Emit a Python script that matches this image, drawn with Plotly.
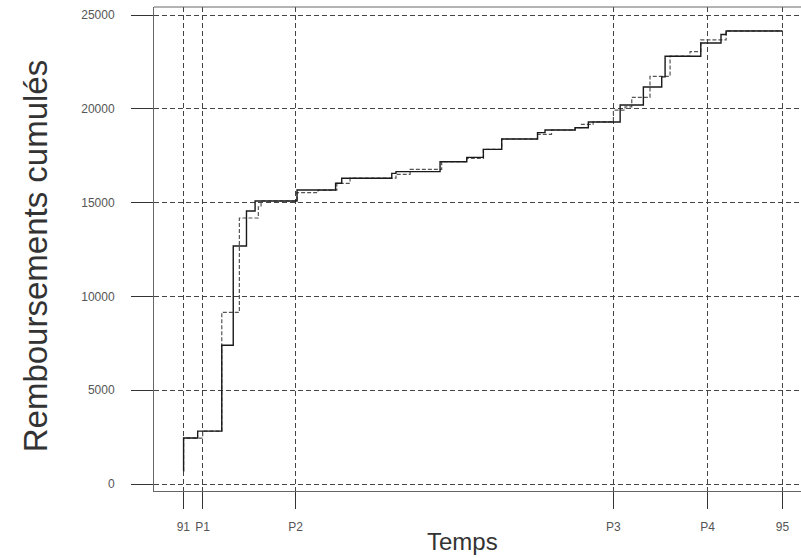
import plotly.graph_objects as go

# x in months since start of 1991
tick_vals = [0, 1.55, 9.0, 34.45, 42.0, 48.0]
tick_text = ["91", "P1", "P2", "P3", "P4", "95"]

solid_x = [0, 0.02, 1.15, 3.08, 4.0, 5.06, 5.75, 9.11, 12.2, 12.69, 16.7, 17.04,
           20.57, 22.71, 24.04, 25.51, 28.38, 28.98, 31.39, 32.45, 35.0, 36.86,
           38.33, 38.6, 41.46, 43.08, 43.49, 48.0]
solid_y = [700, 2450, 2820, 7400, 12690, 14550, 15085, 15670, 16030, 16300, 16560, 16650,
           17180, 17410, 17840, 18390, 18730, 18870, 18990, 19300, 20200, 21160,
           21700, 22800, 23510, 23960, 24150, 24150]

dash_x = [0, 0.02, 1.55, 3.08, 4.49, 6.01, 6.23, 9.11, 10.79, 12.3, 13.36, 17.04,
          18.17, 20.7, 22.71, 24.04, 25.51, 28.38, 29.5, 31.39, 31.9, 32.83, 34.46,
          35.39, 35.93, 37.39, 39.0, 40.6, 41.46, 43.49, 48.0]
dash_y = [700, 2450, 2820, 9150, 14180, 14780, 15085, 15530, 15670, 16030, 16300, 16510,
          16770, 17180, 17360, 17840, 18390, 18640, 18870, 18990, 19170, 19300, 19930,
          20100, 20610, 21730, 22810, 23050, 23670, 24150, 24150]

y_ticks = [0, 5000, 10000, 15000, 20000, 25000]

FONT = "Liberation Sans, Arial, sans-serif"

fig = go.Figure()
fig.add_trace(go.Scatter(x=dash_x, y=dash_y, mode="lines", line_shape="hv",
                         line=dict(color="#555555", width=1.2, dash="4px,2px"),
                         showlegend=False))
fig.add_trace(go.Scatter(x=solid_x, y=solid_y, mode="lines", line_shape="hv",
                         line=dict(color="#1a1a1a", width=1.4),
                         showlegend=False))

fig.update_layout(
    width=801, height=558,
    margin=dict(l=154, r=0, t=7, b=67),
    paper_bgcolor="white", plot_bgcolor="white",
    font=dict(family=FONT, color="#444444", size=12),
    xaxis=dict(range=[-2.35, 49.49], tickvals=tick_vals, ticktext=tick_text,
               showgrid=True, gridcolor="#444444", gridwidth=1, griddash="5px,3px",
               zeroline=False, showline=True, linecolor="#666666", linewidth=1,
               ticks="outside", ticklen=17, tickcolor="#333333", tickwidth=1,
               ticklabelstandoff=8, tickfont=dict(size=12, color="#555555")),
    yaxis=dict(range=[-373, 25427], tickvals=y_ticks,
               ticktext=[str(v) for v in y_ticks],
               showgrid=True, gridcolor="#444444", gridwidth=1, griddash="5px,3px",
               zeroline=False, showline=True, linecolor="#666666", linewidth=1,
               ticks="outside", ticklen=22, tickcolor="#333333", tickwidth=1,
               ticklabelstandoff=14, tickfont=dict(size=12, color="#555555")),
    shapes=[dict(type="line", xref="paper", yref="paper", x0=0, x1=1, y0=1, y1=1,
                 line=dict(color="#666666", width=1))],
    annotations=[
        dict(text="Remboursements cumulés", xref="paper", yref="paper",
             x=(35 - 154) / 647, y=0.485, xanchor="center", yanchor="middle",
             textangle=-90, showarrow=False,
             font=dict(family=FONT, size=33, color="#333333")),
        dict(text="Temps", xref="paper", yref="paper",
             x=(462 - 154) / 647, y=-(541 - 491) / 484, xanchor="center", yanchor="middle",
             showarrow=False, font=dict(family=FONT, size=24, color="#333333")),
    ],
)

fig.write_html("out.html")
